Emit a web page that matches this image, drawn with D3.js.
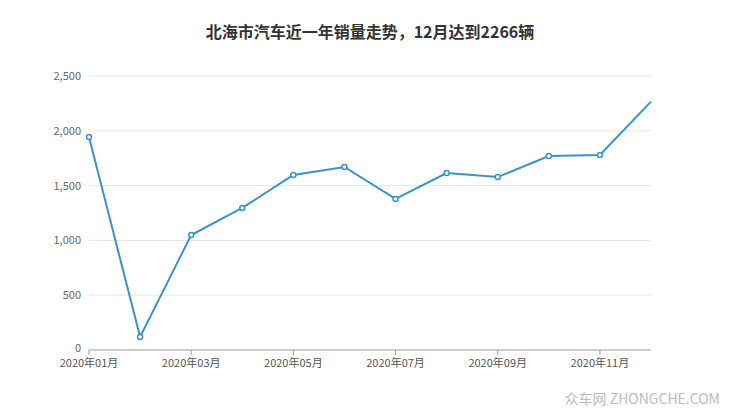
<!DOCTYPE html>
<html><head><meta charset="utf-8">
<script src="https://cdn.jsdelivr.net/npm/d3@7"></script>
<style>body{margin:0;background:#fff;font-family:"Noto Sans CJK SC","Noto Sans",sans-serif}</style>
</head><body><svg id="c" width="740" height="417"></svg>
<script>
const months=["2020年01月","2020年02月","2020年03月","2020年04月","2020年05月","2020年06月","2020年07月","2020年08月","2020年09月","2020年10月","2020年11月","2020年12月"];
const sales=[1943,119,1049,1296,1597,1670,1378,1615,1578,1770,1779,2266];
const yTicks=[0,500,1000,1500,2000,2500];
const svg=d3.select("#c");
const L=89,R=651,T=76,B=350;
const x=d3.scalePoint().domain(months).range([L,R]);
const y=d3.scaleLinear().domain([0,2500]).range([B,T]);
svg.append("text").attr("x",370).attr("y",38).attr("text-anchor","middle").attr("font-size",16).attr("font-weight","bold").attr("fill","#333").text("北海市汽车近一年销量走势，12月达到2266辆");
yTicks.forEach(t=>{
 if(t>0) svg.append("line").attr("x1",L).attr("x2",R).attr("y1",y(t)).attr("y2",y(t)).attr("stroke","#e6e6e6");
 svg.append("text").attr("x",L-8).attr("y",y(t)+(t>0?4:2)).attr("text-anchor","end").attr("font-size",11).attr("fill","#666").text(d3.format(",")(t));
});
svg.append("line").attr("x1",L).attr("x2",R).attr("y1",B).attr("y2",B).attr("stroke","#999");
months.forEach((m,i)=>{
 if(i%2==0){
  svg.append("line").attr("x1",x(m)).attr("x2",x(m)).attr("y1",B).attr("y2",B+5).attr("stroke","#999");
  svg.append("text").attr("x",x(m)).attr("y",B+17).attr("text-anchor","middle").attr("font-size",11).attr("fill","#555").text(m);
 }
});
svg.append("path").datum(sales).attr("fill","none").attr("stroke","#3a93c8").attr("stroke-width",2)
 .attr("d",d3.line().x((d,i)=>x(months[i])).y(d=>y(d)));
svg.selectAll("circle").data(sales.slice(0,11)).join("circle").attr("cx",(d,i)=>x(months[i])).attr("cy",d=>y(d)).attr("r",2.5)
 .attr("fill","#fff").attr("stroke","#3a93c8").attr("stroke-width",1.5);
svg.append("text").attr("x",720).attr("y",404).attr("text-anchor","end").attr("font-size",14).attr("fill","#bbb").text("众车网 ZHONGCHE.COM");
</script></body></html>
